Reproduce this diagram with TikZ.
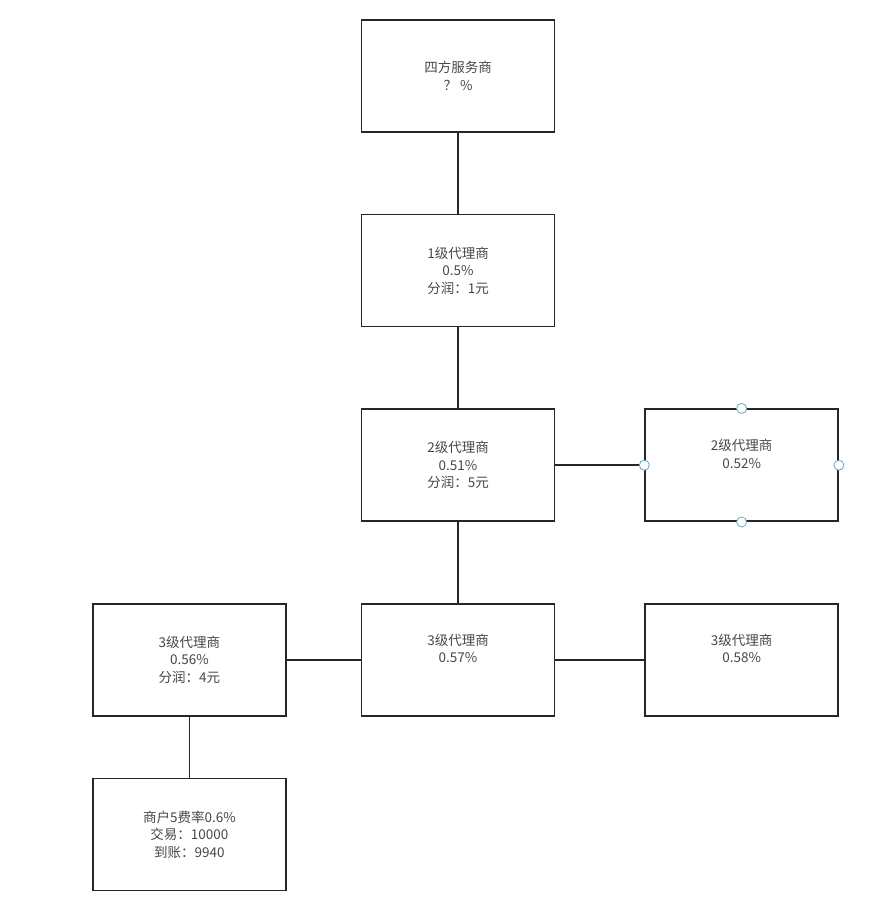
\documentclass[tikz,border=0pt]{standalone}
\usepackage{fontspec}
\setmainfont{Noto Sans CJK SC}
\usetikzlibrary{positioning}

\begin{document}
\begin{tikzpicture}[
x=1pt, y=-1pt,
every node/.style = {align=center, font=\fontsize{13.5}{17.5}\selectfont, text=black!72},
box/.style = {shape=rectangle, draw=black!85, line width=1.6pt, minimum width=193pt, minimum height=112pt, inner sep=0pt},
handle/.style = {shape=circle, draw=cyan!45!gray, fill=white, line width=0.8pt, minimum size=10pt, inner sep=0pt},
link/.style = {draw=black!85, line width=1.6pt},
node distance = 81pt and 89pt,
]
  \useasboundingbox (0,0) rectangle (884,910);
  \node[box] (top) at (458,76) {四方服务商\\？ \%};
  \node[box, below=of top] (agent1) {1级代理商\\0.5\%\\分润：1元};
  \node[box, below=of agent1] (agent2) {2级代理商\\0.51\%\\分润：5元};
  \node[box, right=of agent2] (agent2r) {2级代理商\\0.52\%\\\strut};
  \node[box, below=of agent2] (agent3) {3级代理商\\0.57\%\\\strut};
  \node[box, right=of agent3] (agent3r) {3级代理商\\0.58\%\\\strut};
  \node[box, left=74pt of agent3] (agent3l) {3级代理商\\0.56\%\\分润：4元};
  \node[box, below=61pt of agent3l] (shop) {商户5费率0.6\%\\交易：10000\\到账：9940};
  % connectors
  \draw[link] (top) -- (agent1);
  \draw[link] (agent1) -- (agent2);
  \draw[link] (agent2) -- (agent3);
  \draw[link] (agent2) -- (agent2r);
  \draw[link] (agent3l) -- (agent3);
  \draw[link] (agent3) -- (agent3r);
  \draw[link] (agent3l) -- (shop);
  % selection handles
  \foreach \side in {north,south,east,west}
    \node[handle] (h-\side) at (agent2r.\side) {};
\end{tikzpicture}
\end{document}
